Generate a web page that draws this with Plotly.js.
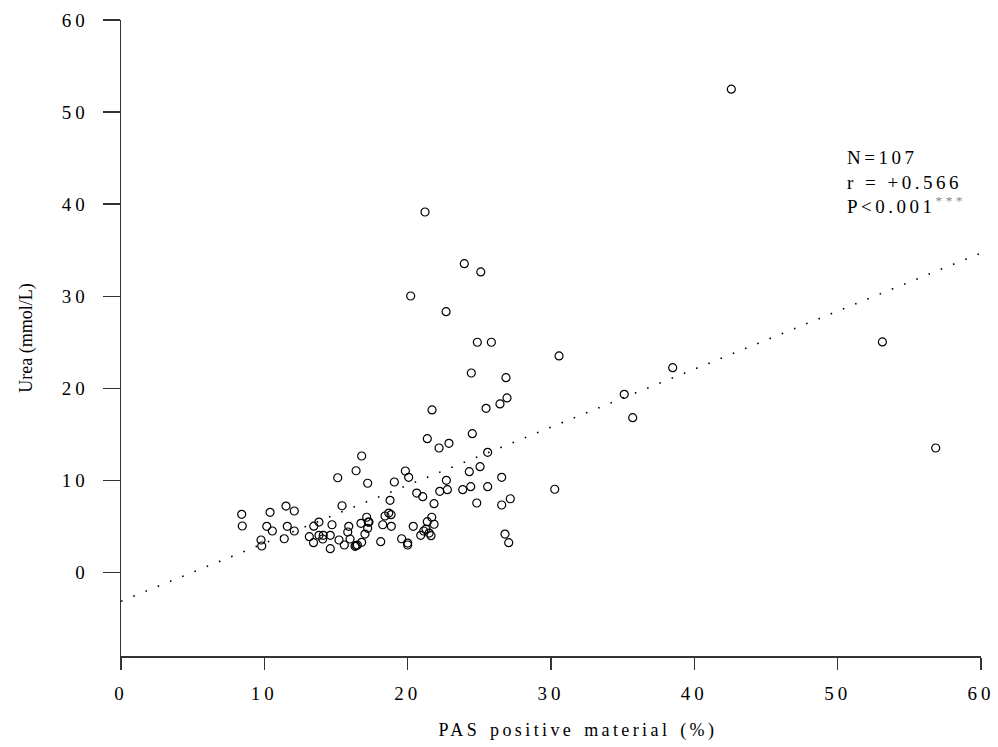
<!DOCTYPE html>
<html>
<head>
<meta charset="utf-8">
<script src="https://cdn.plot.ly/plotly-3.0.1.min.js"></script>
<style>
  html, body { margin: 0; padding: 0; background: #fff; }
  #chart { width: 998px; height: 747px; }
  .xtick text, .ytick text { letter-spacing: 4px; }
  .xtitle { letter-spacing: 3.4px; transform: translate(27px, -2px); word-spacing: 2px; }
  .annotation-text { letter-spacing: 3.5px; }
</style>
</head>
<body>
<div id="chart"></div>
<script>
// PAS positive material (%) per case
const pasX = [
  8.42, 8.46, 10.40, 11.51, 12.09, 10.17, 10.56, 11.60, 12.09, 13.45,
  9.77, 9.82, 11.39, 13.14, 13.43, 15.42, 13.81, 14.72, 17.14, 17.30,
  16.74, 18.42, 18.68, 18.26, 15.89, 17.21, 15.82, 13.81, 14.11, 14.07,
  14.60, 15.21, 15.98, 17.02, 15.58, 16.79, 16.49, 16.33, 14.60, 18.12,
  16.79, 16.40, 15.12, 17.21, 21.37, 24.51, 22.19, 22.88, 25.58, 19.84,
  20.07, 19.07, 24.30, 25.05, 22.70, 26.56, 20.63, 21.05, 22.24, 22.77,
  23.84, 24.40, 25.58, 18.77, 21.84, 24.82, 26.56, 27.16, 18.84, 18.86,
  20.39, 21.68, 21.37, 21.84, 21.28, 21.12, 20.91, 21.63, 19.58, 20.00,
  26.79, 27.05, 21.21, 23.95, 25.10, 20.21, 22.68, 24.86, 25.84, 30.56,
  24.44, 26.86, 26.93, 26.44, 25.47, 21.70, 38.49, 35.11, 35.70, 53.12,
  56.84, 30.26, 42.58, 20.00, 16.40, 17.25, 21.50
];
// Urea (mmol/L) per case
const ureaY = [
  6.34, 5.07, 6.56, 7.24, 6.70, 5.04, 4.53, 5.04, 4.53, 5.05,
  3.55, 2.90, 3.69, 3.91, 3.26, 7.27, 5.50, 5.21, 6.02, 5.50,
  5.36, 6.16, 6.48, 5.21, 5.04, 4.82, 4.42, 4.06, 4.06, 3.66,
  4.06, 3.55, 3.66, 4.20, 3.01, 3.30, 3.01, 2.87, 2.61, 3.37,
  12.67, 11.07, 10.31, 9.71, 14.55, 15.09, 13.54, 14.05, 13.07, 11.04,
  10.36, 9.85, 10.97, 11.51, 10.03, 10.36, 8.65, 8.25, 8.84, 9.01,
  9.01, 9.34, 9.34, 7.86, 7.49, 7.57, 7.35, 8.03, 6.30, 5.04,
  5.04, 6.02, 5.54, 5.26, 4.74, 4.53, 4.06, 4.02, 3.69, 3.22,
  4.20, 3.26, 39.16, 33.55, 32.65, 30.04, 28.34, 25.02, 25.02, 23.53,
  21.68, 21.17, 18.97, 18.32, 17.85, 17.67, 22.26, 19.37, 16.83, 25.05,
  13.54, 9.06, 52.49, 3.01, 2.95, 5.50, 4.30
];
// Regression line end points
const fitX = [0, 60];
const fitY = [-3.1, 34.7];
// Tick labels
const xTickVals = [0, 10, 20, 30, 40, 50, 60];
const xTickText = ["0", "10", "20", "30", "40", "50", "60"];
const yTickVals = [0, 10, 20, 30, 40, 50, 60];
const yTickText = ["0", "10", "20", "30", "40", "50", "60"];
// Statistics
const statN = "107";
const statR = "+0.566";
const statP = "0.001";

const serif = "Liberation Serif, Times New Roman, serif";

const traces = [
  {
    x: fitX, y: fitY, type: "scatter", mode: "lines",
    line: { color: "#000", width: 1.6, dash: "1.6px,11.6px" },
    hoverinfo: "skip", showlegend: false
  },
  {
    x: pasX, y: ureaY, type: "scatter", mode: "markers",
    marker: { symbol: "circle-open", size: 8, color: "#000", line: { width: 1.2, color: "#000" } },
    showlegend: false
  }
];

const layout = {
  width: 998, height: 747,
  margin: { l: 121, r: 17, t: 20, b: 91 },
  paper_bgcolor: "#fff", plot_bgcolor: "#fff",
  font: { family: serif, color: "#000", size: 18 },
  showlegend: false,
  xaxis: {
    range: [0, 60], tickvals: xTickVals, ticktext: xTickText,
    showgrid: false, zeroline: false, showline: true, linecolor: "#333", linewidth: 1.5,
    ticks: "outside", ticklen: 12, tickwidth: 1.5, tickcolor: "#333",
    tickfont: { family: serif, size: 19, color: "#000" },
    ticklabelstandoff: 8,
    title: { text: "PAS positive material (%)", font: { family: serif, size: 18, color: "#000" }, standoff: 22 }
  },
  yaxis: {
    range: [-9.04, 60], tickvals: yTickVals, ticktext: yTickText,
    showgrid: false, zeroline: false, showline: true, linecolor: "#333", linewidth: 1.5,
    ticks: "outside", ticklen: 17, tickwidth: 1.5, tickcolor: "#333",
    tickfont: { family: serif, size: 19, color: "#000" },
    ticklabelstandoff: 10,
    title: { text: "Urea (mmol/L)", font: { family: serif, size: 18, color: "#000" }, standoff: 24 }
  },
  annotations: [
    {
      xref: "x", yref: "y", x: 50.5, y: 46.4, xanchor: "left", yanchor: "top",
      align: "left", showarrow: false,
      font: { family: serif, size: 19, color: "#000" },
      text: "N=" + statN + "<br>r = " + statR + "<br>P&lt;" + statP +
            "<sup><span style='color:#888'>***</span></sup>"
    }
  ]
};

Plotly.newPlot("chart", traces, layout, { staticPlot: true, displayModeBar: false });
</script>
</body>
</html>
